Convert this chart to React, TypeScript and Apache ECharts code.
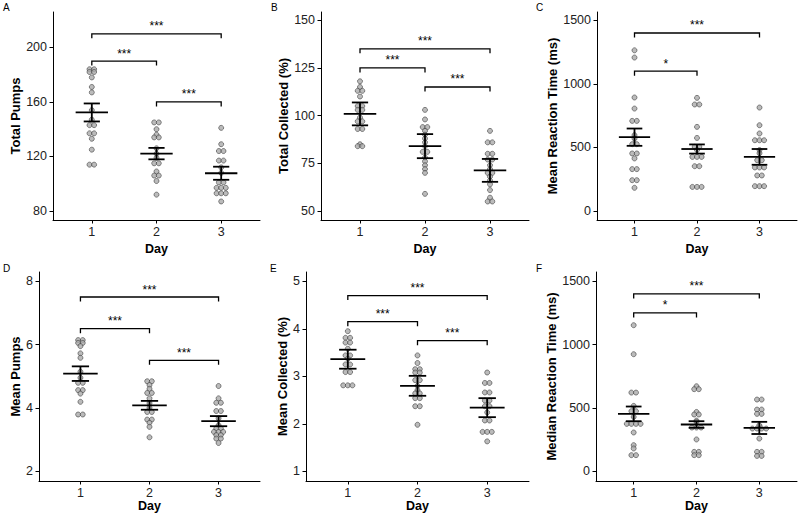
import React, { useEffect, useRef } from "react";
import * as echarts from "echarts";

// ---------- data ----------
const days = [1, 2, 3];

const totalPumps = [
  [184, 184, 182, 182, 178, 171, 167, 154, 147, 143, 143, 137, 137, 133, 125, 114, 114],
  [145, 145, 140, 136, 134, 134, 126, 122, 119, 115, 115, 109, 106, 106, 102, 92],
  [141, 129, 124, 124, 117, 117, 112, 108, 101, 101, 97, 97, 97, 93, 93, 93, 87],
];
const totalPumpsMean = [152.3, 122.1, 107.7];
const totalPumpsSE = [6.6, 4.2, 4.8];
const totalPumpsTicks = [80, 120, 160, 200];
const totalPumpsSig: [number, number, number, string][] = [[1, 2, 190, "***"], [2, 3, 160, "***"], [1, 3, 210, "***"]];

const totalCollected = [
  [118, 115, 113, 113, 110, 105, 105, 103, 103, 99, 97, 97, 93, 93, 85, 84, 84],
  [103, 98, 94, 94, 92, 90, 88, 86, 84, 81, 81, 78, 76, 74, 72, 70, 59],
  [92, 86, 86, 80, 80, 77, 77, 74, 72, 70, 70, 68, 66, 64, 61, 57, 55, 55],
];
const totalCollectedMean = [100.9, 84.0, 71.3];
const totalCollectedSE = [6.0, 6.3, 6.0];
const totalCollectedTicks = [50, 75, 100, 125, 150];
const totalCollectedSig: [number, number, number, string][] = [[1, 2, 125, "***"], [2, 3, 115, "***"], [1, 3, 135, "***"]];

const meanRT = [
  [1264, 1207, 893, 806, 709, 709, 597, 570, 526, 526, 453, 453, 414, 330, 330, 243, 243, 183],
  [890, 838, 838, 662, 575, 505, 505, 480, 426, 426, 426, 353, 353, 190, 190, 190],
  [814, 675, 610, 557, 557, 557, 480, 455, 400, 400, 343, 343, 343, 280, 280, 196, 196, 196],
];
const meanRTMean = [581, 488, 426];
const meanRTSE = [68, 36, 62];
const meanRTTicks = [0, 500, 1000, 1500];
const meanRTSig: [number, number, number, string][] = [[1, 2, 1100, "*"], [1, 3, 1400, "***"]];

const meanPumps = [
  [6.14, 6.14, 6.05, 6.05, 5.95, 5.72, 5.58, 5.14, 4.95, 4.79, 4.79, 4.56, 4.56, 4.45, 4.19, 3.79, 3.79],
  [4.84, 4.84, 4.72, 4.6, 4.47, 4.47, 4.3, 4.15, 4.0, 3.87, 3.87, 3.63, 3.63, 3.53, 3.4, 3.07],
  [4.69, 4.3, 4.16, 4.16, 3.9, 3.9, 3.67, 3.45, 3.35, 3.35, 3.24, 3.24, 3.24, 3.14, 3.14, 3.03, 3.03, 2.89],
];
const meanPumpsMean = [5.08, 4.08, 3.58];
const meanPumpsSE = [0.23, 0.14, 0.16];
const meanPumpsTicks = [2, 4, 6, 8];
const meanPumpsSig: [number, number, number, string][] = [[1, 2, 6.5, "***"], [2, 3, 5.5, "***"], [1, 3, 7.5, "***"]];

const meanCollected = [
  [3.95, 3.81, 3.81, 3.71, 3.71, 3.58, 3.44, 3.44, 3.37, 3.25, 3.25, 3.09, 3.09, 2.81, 2.81, 2.81],
  [3.44, 3.28, 3.15, 3.15, 3.08, 3.08, 2.92, 2.92, 2.8, 2.71, 2.64, 2.64, 2.54, 2.54, 2.37, 2.37, 1.98],
  [3.08, 2.86, 2.86, 2.66, 2.66, 2.49, 2.49, 2.37, 2.37, 2.24, 2.07, 2.07, 1.83, 1.83, 1.83, 1.63],
];
const meanCollectedMean = [3.36, 2.8, 2.34];
const meanCollectedSE = [0.2, 0.21, 0.2];
const meanCollectedTicks = [1, 2, 3, 4, 5];
const meanCollectedSig: [number, number, number, string][] = [[1, 2, 4.15, "***"], [2, 3, 3.75, "***"], [1, 3, 4.7, "***"]];

const medianRT = [
  [1153, 924, 621, 621, 516, 474, 474, 429, 374, 374, 374, 374, 306, 206, 180, 127, 127],
  [671, 648, 648, 468, 448, 448, 400, 390, 345, 345, 345, 251, 153, 153, 127, 127],
  [566, 566, 487, 487, 453, 453, 363, 337, 337, 337, 337, 258, 153, 153, 121, 121],
];
const medianRTMean = [453, 369, 342];
const medianRTSE = [58, 26, 48];
const medianRTTicks = [0, 500, 1000, 1500];
const medianRTSig: [number, number, number, string][] = [[1, 2, 1250, "*"], [1, 3, 1400, "***"]];

// ---------- layout ----------
const FONT = "'Liberation Sans', Arial, Helvetica, sans-serif";
const DOT_GAP = 4.6;

type Panel = {
  letter: string;
  name: string;
  values: number[][];
  mean: number[];
  se: number[];
  ticks: number[];
  sig: [number, number, number, string][];
  min: number;
  max: number;
  grid: { left: number; top: number; width: number; height: number };
  nameGap: number;
  xNameGap: number;
  letterPos: [number, number];
};

const panels: Panel[] = [
  { letter: "A", name: "Total Pumps", values: totalPumps, mean: totalPumpsMean, se: totalPumpsSE, ticks: totalPumpsTicks, sig: totalPumpsSig, min: 73.4, max: 226, grid: { left: 53, top: 12, width: 207, height: 208 }, nameGap: 25, xNameGap: 22, letterPos: [3, 2] },
  { letter: "B", name: "Total Collected (%)", values: totalCollected, mean: totalCollectedMean, se: totalCollectedSE, ticks: totalCollectedTicks, sig: totalCollectedSig, min: 45.3, max: 154.3, grid: { left: 321, top: 12, width: 208, height: 208 }, nameGap: 24, xNameGap: 22, letterPos: [271, 2] },
  { letter: "C", name: "Mean Reaction Time (ms)", values: meanRT, mean: meanRTMean, se: meanRTSE, ticks: meanRTTicks, sig: meanRTSig, min: -70, max: 1565, grid: { left: 597, top: 12, width: 200, height: 208 }, nameGap: 33, xNameGap: 22, letterPos: [536, 2] },
  { letter: "D", name: "Mean Pumps", values: meanPumps, mean: meanPumpsMean, se: meanPumpsSE, ticks: meanPumpsTicks, sig: meanPumpsSig, min: 1.69, max: 8.29, grid: { left: 39, top: 272, width: 221, height: 209 }, nameGap: 13, xNameGap: 18.5, letterPos: [3, 263] },
  { letter: "E", name: "Mean Collected (%)", values: meanCollected, mean: meanCollectedMean, se: meanCollectedSE, ticks: meanCollectedTicks, sig: meanCollectedSig, min: 0.796, max: 5.196, grid: { left: 306, top: 272, width: 223, height: 209 }, nameGap: 11, xNameGap: 18.5, letterPos: [270, 263] },
  { letter: "F", name: "Median Reaction Time (ms)", values: medianRT, mean: medianRTMean, se: medianRTSE, ticks: medianRTTicks, sig: medianRTSig, min: -77, max: 1573, grid: { left: 596, top: 272, width: 201, height: 209 }, nameGap: 33, xNameGap: 18.5, letterPos: [536, 263] },
];

function dotItems(vals: number[], day: number) {
  const counts = new Map<number, number>();
  vals.forEach((v) => counts.set(v, (counts.get(v) || 0) + 1));
  const seen = new Map<number, number>();
  return vals.map((v) => {
    const k = counts.get(v) || 1;
    const i = seen.get(v) || 0;
    seen.set(v, i + 1);
    return { value: [day, v], symbolOffset: [(i - (k - 1) / 2) * DOT_GAP, 0] };
  });
}

function buildOption() {
  const grid: any[] = [];
  const xAxis: any[] = [];
  const yAxis: any[] = [];
  const series: any[] = [];
  const graphic: any[] = [];

  panels.forEach((p, gi) => {
    grid.push({ ...p.grid, containLabel: false, outerBoundsMode: "none" });
    xAxis.push({
      type: "value",
      gridIndex: gi,
      min: 0.4,
      max: 3.6,
      name: "Day",
      nameLocation: "middle",
      nameGap: p.xNameGap,
      nameTextStyle: { fontFamily: FONT, fontSize: 12.5, fontWeight: "bold", color: "#000", lineHeight: 13 },
      splitLine: { show: false },
      axisLine: { show: true, onZero: false, lineStyle: { color: "#000", width: 1 } },
      axisTick: { show: true, length: 3.5, customValues: days, lineStyle: { color: "#000", width: 1 } },
      axisLabel: { customValues: days, fontFamily: FONT, fontSize: 12.5, color: "#222", margin: 5, formatter: (v: number) => String(v) },
    });
    yAxis.push({
      type: "value",
      gridIndex: gi,
      min: p.min,
      max: p.max,
      name: p.name,
      nameLocation: "middle",
      nameGap: p.nameGap,
      nameRotate: 90,
      nameTextStyle: { fontFamily: FONT, fontSize: 13, fontWeight: "bold", color: "#000" },
      splitLine: { show: false },
      axisLine: { show: true, onZero: false, lineStyle: { color: "#000", width: 1 } },
      axisTick: { show: true, length: 3.5, customValues: p.ticks, lineStyle: { color: "#000", width: 1 } },
      axisLabel: { customValues: p.ticks, fontFamily: FONT, fontSize: 12.5, color: "#222", margin: 6, formatter: (v: number) => String(v) },
    });

    const dots: any[] = [];
    p.values.forEach((vals, di) => dots.push(...dotItems(vals, days[di])));
    series.push({
      type: "scatter",
      xAxisIndex: gi,
      yAxisIndex: gi,
      symbol: "circle",
      symbolSize: 5,
      itemStyle: { color: "#aaaaaa", borderColor: "#333", borderWidth: 0.7 },
      data: dots,
      z: 2,
    });

    series.push({
      type: "custom",
      xAxisIndex: gi,
      yAxisIndex: gi,
      z: 5,
      data: days.map((d, i) => [d, p.mean[i], p.se[i]]),
      renderItem: (params: any, api: any) => {
        const d = api.value(0), m = api.value(1), s = api.value(2);
        const c = api.coord([d, m]);
        const ml = api.coord([d - 0.25, m]);
        const mr = api.coord([d + 0.25, m]);
        const top = api.coord([d, m + s]);
        const bot = api.coord([d, m - s]);
        const cw = api.coord([d + 0.125, m])[0] - c[0];
        const st = { stroke: "#000", lineWidth: 1.8 };
        return {
          type: "group",
          children: [
            { type: "line", shape: { x1: ml[0], y1: c[1], x2: mr[0], y2: c[1] }, style: st },
            { type: "line", shape: { x1: c[0], y1: top[1], x2: c[0], y2: bot[1] }, style: st },
            { type: "line", shape: { x1: c[0] - cw, y1: top[1], x2: c[0] + cw, y2: top[1] }, style: st },
            { type: "line", shape: { x1: c[0] - cw, y1: bot[1], x2: c[0] + cw, y2: bot[1] }, style: st },
          ],
        };
      },
    });

    const sig = p.sig;
    series.push({
      type: "custom",
      xAxisIndex: gi,
      yAxisIndex: gi,
      z: 6,
      data: sig.map((b) => [b[0], b[2], b[1]]),
      renderItem: (params: any, api: any) => {
        const b = sig[params.dataIndex];
        const p1 = api.coord([b[0], b[2]]);
        const p2 = api.coord([b[1], b[2]]);
        const tip = 4.5;
        return {
          type: "group",
          children: [
            {
              type: "polyline",
              shape: { points: [[p1[0], p1[1] + tip], [p1[0], p1[1]], [p2[0], p2[1]], [p2[0], p2[1] + tip]] },
              style: { stroke: "#000", lineWidth: 1.3, fill: null },
            },
            {
              type: "text",
              x: (p1[0] + p2[0]) / 2,
              y: p1[1] - 1.5,
              style: { text: b[3], fontSize: 12, fontFamily: FONT, fill: "#000", align: "center", verticalAlign: "bottom" },
            },
          ],
        };
      },
    });

    graphic.push({
      type: "text",
      left: p.letterPos[0],
      top: p.letterPos[1],
      style: { text: p.letter, fontSize: 10, fontFamily: FONT, fill: "#000" },
    });
  });

  return { animation: false, backgroundColor: "#fff", grid, xAxis, yAxis, series, graphic };
}

export default function App() {
  const ref = useRef<HTMLDivElement>(null);
  useEffect(() => {
    if (!ref.current) return;
    const chart = echarts.init(ref.current, undefined, { renderer: "svg" });
    chart.setOption(buildOption() as any);
    return () => chart.dispose();
  }, []);
  return <div ref={ref} style={{ position: "fixed", left: 0, top: 0, width: 800, height: 515, background: "#fff" }} />;
}
